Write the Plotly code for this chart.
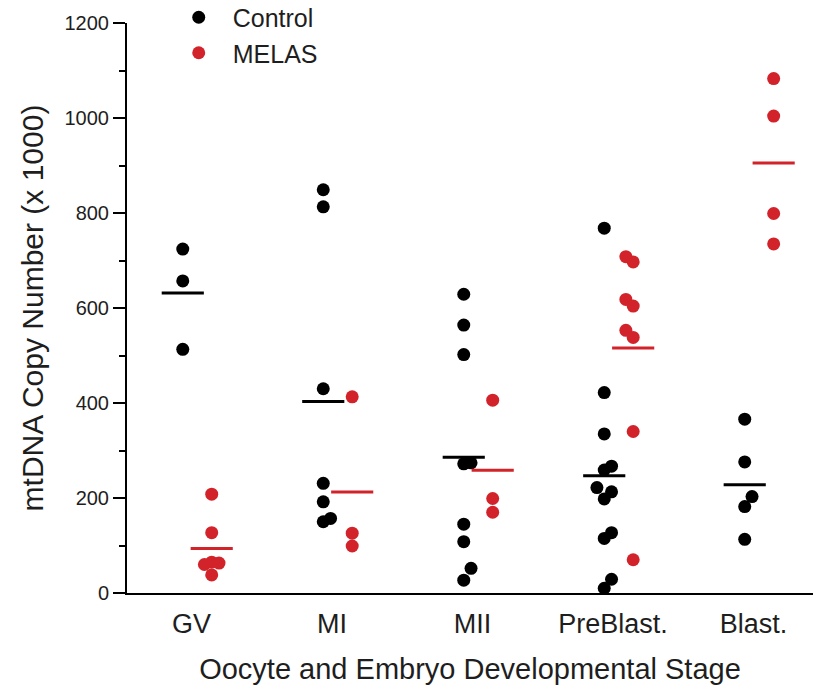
import plotly.graph_objects as go

# Developmental stages on the x axis
stages = ["GV", "MI", "MII", "PreBlast.", "Blast."]

# mtDNA copy number (x 1000) per oocyte / embryo, control donors
gv_control = [724, 657, 513]
mi_control = [849, 813, 430, 231, 192, 157, 150]
mii_control = [629, 564, 502, 274, 272, 145, 108, 52, 27]
preblast_control = [768, 422, 335, 267, 259, 222, 213, 198, 127, 115, 29, 10]
blast_control = [366, 276, 203, 182, 113]

# mtDNA copy number (x 1000) per oocyte / embryo, MELAS carrier
gv_melas = [208, 127, 65, 63, 60, 38]
mi_melas = [413, 126, 99]
mii_melas = [406, 199, 170]
preblast_melas = [708, 697, 618, 604, 553, 538, 340, 70]
blast_melas = [1083, 1004, 799, 735]

control_groups = [gv_control, mi_control, mii_control, preblast_control, blast_control]
melas_groups = [gv_melas, mi_melas, mii_melas, preblast_melas, blast_melas]

BLACK = "#000000"
RED = "#d2232a"
TEXT = "#1e1e1e"
FONT = "Arial, Liberation Sans, sans-serif"

SIDE = 0.103      # control left of the stage centre, MELAS right of it
STEP = 0.052      # sideways step between overlapping dots
HALF = 0.15       # half width of the mean bar
TOUCH = 26        # values closer than this would overlap in the same column


def swarm_slots(values, order):
    """Greedy beeswarm: put each dot in the first column slot where it does not overlap."""
    slots = [0] * len(values)
    placed = []
    for i in sorted(range(len(values)), key=lambda k: values[k]):
        for s in order:
            if all(abs(values[i] - v) >= TOUCH for v, ss in placed if ss == s):
                slots[i] = s
                placed.append((values[i], s))
                break
    return slots


def build(groups, side, order):
    xs, ys, mx, my = [], [], [], []
    for k, vals in enumerate(groups):
        centre = k + 1 + side
        for v, s in zip(vals, swarm_slots(vals, order)):
            xs.append(centre + s * STEP)
            ys.append(v)
        mean = sum(vals) / len(vals)
        mx += [centre - HALF, centre + HALF, None]
        my += [mean, mean, None]
    return xs, ys, mx, my


cx, cy, cmx, cmy = build(control_groups, -SIDE, (0, 1, -1, 2, -2, 3, -3))
mx_, my_, mmx, mmy = build(melas_groups, SIDE, (0, -1, 1, -2, 2, -3, 3))

fig = go.Figure()
fig.add_trace(go.Scatter(x=cx, y=cy, mode="markers", name="Control",
                         marker=dict(color=BLACK, size=13, line=dict(width=0)),
                         cliponaxis=False))
fig.add_trace(go.Scatter(x=mx_, y=my_, mode="markers", name="MELAS",
                         marker=dict(color=RED, size=13, line=dict(width=0)),
                         cliponaxis=False))
fig.add_trace(go.Scatter(x=cmx, y=cmy, mode="lines", showlegend=False,
                         line=dict(color=BLACK, width=3), hoverinfo="skip"))
fig.add_trace(go.Scatter(x=mmx, y=mmy, mode="lines", showlegend=False,
                         line=dict(color=RED, width=3), hoverinfo="skip"))

fig.update_layout(
    width=813, height=686,
    margin=dict(l=127, r=0, t=23, b=93, autoexpand=False),
    plot_bgcolor="white", paper_bgcolor="white",
    font=dict(family=FONT, color=TEXT, size=20),
    showlegend=True,
    legend=dict(x=0.055, y=1.05, xanchor="left", yanchor="top",
                bgcolor="rgba(0,0,0,0)", font=dict(size=25, family=FONT, color=TEXT),
                itemwidth=58, tracegroupgap=0),
)

fig.update_xaxes(
    range=[0.5, 5.383],
    tickmode="array", tickvals=[i + 1 - 0.04 for i in range(len(stages))], ticktext=stages,
    ticks="", showgrid=False, zeroline=False,
    showline=True, linecolor=BLACK, linewidth=2,
    tickfont=dict(size=27, family=FONT, color=TEXT),
    ticklabelstandoff=6,
    title=dict(text="Oocyte and Embryo Developmental Stage",
               font=dict(size=29, family=FONT, color=TEXT), standoff=20),
)

fig.update_yaxes(
    range=[0, 1200],
    tickmode="linear", tick0=0, dtick=200,
    ticks="outside", ticklen=12, tickwidth=2, tickcolor=BLACK,
    minor=dict(ticks="outside", dtick=100, ticklen=6, tickwidth=2, tickcolor=BLACK),
    showgrid=False, zeroline=False,
    showline=True, linecolor=BLACK, linewidth=2,
    tickfont=dict(size=20, family=FONT, color=TEXT),
    title=dict(text="mtDNA Copy Number (x 1000)",
               font=dict(size=30, family=FONT, color=TEXT), standoff=12),
)

fig.write_html("out.html")
